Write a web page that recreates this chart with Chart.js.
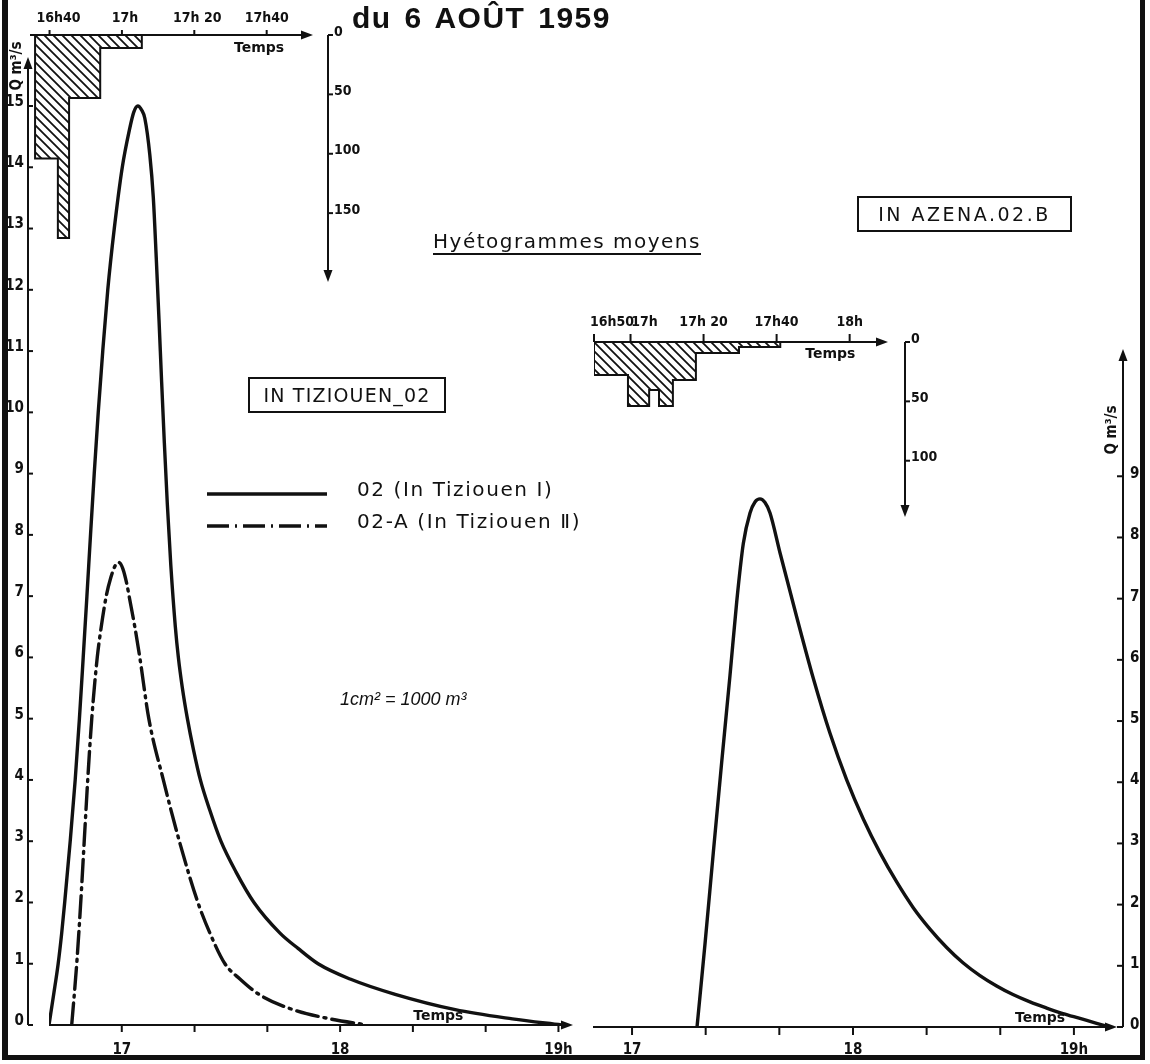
<!DOCTYPE html>
<html lang="fr">
<head>
<meta charset="utf-8">
<title>Crue du 6 août 1959</title>
<script src="https://cdn.jsdelivr.net/npm/chart.js@4.4.1/dist/chart.umd.min.js"></script>
<style>
  body { margin: 0; background: #fff; }
  #page { position: relative; width: 1150px; height: 1064px; overflow: hidden; background: #fff; color: #111; }
  .panel { position: absolute; }
  .frame { position: absolute; left: 2px; top: 0; width: 1143px; height: 1060px; box-sizing: border-box;
           border-left: 6px solid #111; border-right: 5px solid #111; border-bottom: 5px solid #111; }
  .txt { position: absolute; white-space: nowrap; }
  #title { left: 352px; top: 1px; font: bold 30px "Liberation Sans", Arial, sans-serif; letter-spacing: 1.5px; word-spacing: 3px; }
  #hyeto-title { left: 433px; top: 229px; font: 20px "DejaVu Sans", sans-serif; letter-spacing: 1.5px;
                 line-height: 24px; border-bottom: 2px solid #111; }
  .box { position: absolute; box-sizing: border-box; border: 2px solid #111; font: 19px "DejaVu Sans", sans-serif;
         display: flex; align-items: center; justify-content: center; white-space: nowrap; }
  #box1 { left: 248px; top: 377px; width: 198px; height: 36px; letter-spacing: 1.2px; }
  #box2 { left: 857px; top: 196px; width: 215px; height: 36px; letter-spacing: 2.5px; }
  #scale-note { left: 340px; top: 689px; font: italic 18px "Liberation Sans", sans-serif; }
</style>
</head>
<body>
<div id="page">
  <div class="panel" style="left:0;top:0"><canvas id="hydroLeft" width="600" height="1064"></canvas></div>
  <div class="panel" style="left:560px;top:0"><canvas id="hydroRight" width="590" height="1064"></canvas></div>
  <div class="panel" style="left:0;top:0"><canvas id="rainLeft" width="360" height="300"></canvas></div>
  <div class="panel" style="left:570px;top:300px"><canvas id="rainRight" width="370" height="240"></canvas></div>

  <div class="frame"></div>
  <div class="txt" id="title">du 6 AOÛT 1959</div>
  <div class="txt" id="hyeto-title">Hyétogrammes moyens</div>
  <div class="box" id="box1">IN TIZIOUEN_02</div>
  <div class="box" id="box2">IN AZENA.02.B</div>
  <div class="txt" id="scale-note">1cm² = 1000 m³</div>
</div>
<script>
// temps en minutes après 16h00, débits en m3/s, pluie en mm/h

// 02 (In Tiziouen I) - trait plein
const t02 = [40, 41.29, 42.52, 43.49, 44.31, 45.83, 47.20, 48.36, 49.40, 50.42, 51.41, 52.43, 53.53, 54.77,
             56.15, 57.94, 60.14, 62.06, 63.30, 64.40,
             65.50, 66.33, 67.71, 68.67, 69.49, 70.24, 70.95, 71.70, 72.52, 73.48, 74.72, 75.55, 76.65, 78.03,
             79.68, 81.60, 84.22, 87.24, 91.37, 96.33, 103.48, 108.44, 113.94, 122.75, 135.13, 151.64, 167.33, 180.81];
const q02 = [0, 0.5, 1, 1.5, 2, 3, 4, 5, 6, 7, 8, 9, 10, 11,
             12, 13, 14, 14.6, 14.9, 15,
             14.93, 14.8, 14.2, 13.5, 12.5, 11.5, 10.5, 9.5, 8.5, 7.5, 6.5, 6, 5.5, 5,
             4.5, 4, 3.5, 3, 2.5, 2, 1.5, 1.25, 1, 0.75, 0.5, 0.25, 0.1, 0];

// 02-A (In Tiziouen II) - tiret point
const t02A = [46.24, 47.62, 48.72, 49.68, 50.64, 51.75, 53.26, 54.36, 55.73, 56.97, 58.21, 59.17, 60.28, 61.38,
              62.20, 63.58, 64.95, 67.43, 71.42, 75.82, 80.92, 84.22, 88.35, 92.47, 97.70, 107.06, 117.24, 127.42];
const q02A = [0, 1, 2, 3, 4, 5, 6, 6.5, 7, 7.3, 7.5, 7.55, 7.45, 7.2,
              6.94, 6.5, 6, 5, 4, 3, 2, 1.5, 1, 0.75, 0.5, 0.25, 0.1, 0];

// In Azena 02.B
const tAzena = [77.65, 79.82, 82.07, 84.35, 86.61, 88.43, 90.22, 92.04, 93.39, 94.75, 96.11, 97.47, 100.18,
                104.72, 109.22, 113.76, 118.29, 122.8, 127.33, 131.87, 136.37, 140.91, 145.44, 149.87, 154.48,
                159.02, 163.44, 168.06, 172.59, 177.02, 181.64, 186.17, 189.8];
const qAzena = [0, 1.36, 2.85, 4.33, 5.75, 6.95, 7.9, 8.4, 8.58, 8.63, 8.57, 8.4, 7.75,
                6.70, 5.70, 4.80, 4.04, 3.40, 2.85, 2.37, 1.95, 1.60, 1.30, 1.05, 0.84,
                0.67, 0.53, 0.41, 0.31, 0.22, 0.14, 0.06, 0];

// hyétogrammes moyens : début de chaque palier, fin du dernier, intensité
const rainLeftStart = [36, 42.3, 45.4, 54];
const rainLeftEnd = 65.5;
const rainLeftMmH = [104, 171, 53, 11];
const rainRightStart = [50, 59.3, 65.1, 67.8, 71.6, 77.9, 89.7];
const rainRightEnd = 101;
const rainRightMmH = [27.8, 53.9, 40.4, 53.9, 32, 9.3, 4.2];

// graduations
const hydroTicks = [60, 80, 100, 120, 140, 160, 180];
const hydroLabels = ['17', '', '', '18', '', '', '19h'];
const qLeftTicks = [0, 1, 2, 3, 4, 5, 6, 7, 8, 9, 10, 11, 12, 13, 14, 15];
const qRightTicks = [0, 1, 2, 3, 4, 5, 6, 7, 8, 9];
const rainLeftTicks = [40, 60, 80, 100];
const rainLeftLabels = ['16h40', '17h', '17h 20', '17h40'];
const rainRightTicks = [50, 60, 80, 100, 120];
const rainRightLabels = ['16h50', '17h', '17h 20', '17h40', '18h'];
const mmLeftTicks = [0, 50, 100, 150];
const mmRightTicks = [0, 50, 100];
const legendLabels = ['02 (In Tiziouen Ⅰ)', '02-A (In Tiziouen Ⅱ)'];

const ink = '#111';
const tickFont = 'bold 15px "DejaVu Sans Condensed", "Liberation Sans Narrow", sans-serif';

const pts = (xs, ys) => xs.map((x, i) => ({ x, y: ys[i] }));

// paliers -> points pour une ligne en escalier fermée sur l'axe
function steps(starts, end, vals) {
    const p = [{ x: starts[0], y: 0 }];
    starts.forEach((s, i) => p.push({ x: s, y: vals[i] }));
    p.push({ x: end, y: 0 });
    return p;
}

function hatch() {
    const s = 9;
    const c = document.createElement('canvas');
    c.width = c.height = s;
    const g = c.getContext('2d');
    g.strokeStyle = ink;
    g.lineWidth = 1.8;
    g.beginPath();
    g.moveTo(0, 0); g.lineTo(s, s);
    g.moveTo(-1, s - 1); g.lineTo(1, s + 1);
    g.moveTo(s - 1, -1); g.lineTo(s + 1, 1);
    g.stroke();
    return g.createPattern(c, 'repeat');
}

function seg(ctx, x1, y1, x2, y2) {
    ctx.beginPath();
    ctx.moveTo(x1, y1);
    ctx.lineTo(x2, y2);
    ctx.stroke();
}

function head(ctx, x, y, ang) {
    ctx.save();
    ctx.translate(x, y);
    ctx.rotate(ang);
    ctx.beginPath();
    ctx.moveTo(0, 0);
    ctx.lineTo(-12, -4.5);
    ctx.lineTo(-12, 4.5);
    ctx.closePath();
    ctx.fill();
    ctx.restore();
}

// axes dessinés à la main façon planche technique
const axisArt = {
    id: 'axisArt',
    afterDraw(chart, args, o) {
        const { ctx, chartArea: area } = chart;
        const xs = chart.scales.x, ys = chart.scales.y;
        const y0 = ys.getPixelForValue(0);
        const yEnd = ys.getPixelForValue(ys.max);
        const ax = (o.ySide === 'right' ? area.right : area.left) + o.yAxisGap;
        ctx.save();
        ctx.strokeStyle = ink;
        ctx.fillStyle = ink;
        ctx.lineWidth = 2;

        // axe du temps
        seg(ctx, xs.getPixelForValue(o.xFrom), y0, area.right - 6, y0);
        head(ctx, area.right, y0, 0);
        ctx.font = o.xFont || tickFont;
        ctx.textAlign = 'center';
        ctx.textBaseline = 'middle';
        o.xTicks.forEach((v, i) => {
            const px = xs.getPixelForValue(v);
            seg(ctx, px, y0, px, y0 + o.xTickLen);
            const lab = o.xLabels[i];
            if (lab) ctx.fillText(lab, px + ((o.xLabelDx || [])[i] || 0), y0 + o.xLabelDy);
        });
        ctx.font = '600 14px "DejaVu Sans", sans-serif';
        ctx.fillText('Temps', xs.getPixelForValue(o.tempsAt), y0 + o.tempsDy);

        // axe vertical
        seg(ctx, ax, y0, ax, yEnd + (yEnd < y0 ? 6 : -6));
        head(ctx, ax, yEnd, yEnd < y0 ? -Math.PI / 2 : Math.PI / 2);
        ctx.font = o.yFont || tickFont;
        ctx.textAlign = o.yLabelAlign;
        o.yTicks.forEach(v => {
            const py = ys.getPixelForValue(v);
            seg(ctx, ax, py, ax + o.yTickLen, py);
            ctx.fillText(String(v), ax + o.yLabelDx, py + o.yLabelDy);
        });
        if (o.qAt) {
            ctx.save();
            ctx.translate(ax + o.qAt[0], yEnd + o.qAt[1]);
            ctx.rotate(-Math.PI / 2);
            ctx.textAlign = 'center';
            ctx.font = 'bold 15px "DejaVu Sans Condensed", sans-serif';
            ctx.fillText('Q m³/s', 0, 0);
            ctx.restore();
        }

        // légende des deux courbes
        if (o.legend) {
            const L = o.legend;
            chart.data.datasets.forEach((ds, i) => {
                const y = L.y + i * L.gap;
                ctx.lineWidth = ds.borderWidth;
                ctx.setLineDash(ds.borderDash || []);
                seg(ctx, L.x, y, L.x + L.len, y);
                ctx.setLineDash([]);
                ctx.font = '20px "DejaVu Sans", sans-serif';
                ctx.letterSpacing = '1.6px';
                ctx.textAlign = 'left';
                ctx.fillText(ds.label, L.x + L.textGap, y - 3);
                ctx.letterSpacing = '0px';
            });
        }
        ctx.restore();
    }
};

function makeChart(id, datasets, xRange, yRange, pad, art) {
    return new Chart(document.getElementById(id), {
        type: 'line',
        data: { datasets },
        options: {
            responsive: false,
            animation: false,
            events: [],
            layout: { padding: pad, autoPadding: false },
            plugins: { legend: { display: false }, tooltip: { enabled: false }, axisArt: art },
            scales: {
                x: { type: 'linear', display: false, min: xRange[0], max: xRange[1] },
                y: { type: 'linear', display: false, min: yRange[0], max: yRange[1], reverse: !!yRange[2] }
            },
            elements: { point: { radius: 0 } }
        },
        plugins: [axisArt]
    });
}

const curve = (label, xs, ys, dash) => ({
    label,
    data: pts(xs, ys),
    borderColor: ink,
    borderWidth: 3.4,
    borderDash: dash,
    borderCapStyle: 'round',
    fill: false,
    cubicInterpolationMode: 'monotone'
});

const rain = (starts, end, vals) => ({
    data: steps(starts, end, vals),
    stepped: 'before',
    borderColor: ink,
    borderWidth: 2,
    backgroundColor: hatch(),
    fill: 'origin'
});

makeChart('hydroLeft',
    [curve(legendLabels[0], t02, q02, []), curve(legendLabels[1], t02A, q02A, [22, 6, 2, 6])],
    [40, 184], [0, 15.8],
    { left: 49, right: 27, top: 57, bottom: 39 },
    {
        xFrom: 40, xTicks: hydroTicks, xLabels: hydroLabels, xTickLen: 7, xLabelDy: 25,
        tempsAt: 147, tempsDy: -9,
        ySide: 'left', yAxisGap: -21, yTicks: qLeftTicks, yTickLen: 5,
        yLabelAlign: 'right', yLabelDx: -4, yLabelDy: -4, qAt: [-11, 9],
        legend: { x: 207, y: 494, gap: 32, len: 120, textGap: 150 }
    });

makeChart('hydroRight',
    [curve('02.B (In Azena)', tAzena, qAzena, [])],
    [49.4, 191.7], [0, 11.08],
    { left: 33, right: 33, top: 349, bottom: 37 },
    {
        xFrom: 49.4, xTicks: hydroTicks, xLabels: hydroLabels, xTickLen: 8, xLabelDy: 23,
        tempsAt: 170.8, tempsDy: -9,
        ySide: 'right', yAxisGap: 6, yTicks: qRightTicks, yTickLen: -6,
        yLabelAlign: 'left', yLabelDx: 7, yLabelDy: -2, qAt: [-11, 81]
    });

makeChart('rainLeft',
    [rain(rainLeftStart, rainLeftEnd, rainLeftMmH)],
    [34.6, 112.8], [0, 208, true],
    { left: 30, right: 47, top: 35, bottom: 18 },
    {
        xFrom: 34.6, xTicks: rainLeftTicks, xLabels: rainLeftLabels, xTickLen: -5, xLabelDy: -17,
        xLabelDx: [9, 3, 3, 0], xFont: 'bold 14px "DejaVu Sans Condensed", sans-serif',
        tempsAt: 97.9, tempsDy: 13,
        ySide: 'right', yAxisGap: 15, yTicks: mmLeftTicks, yTickLen: 5,
        yLabelAlign: 'left', yLabelDx: 6, yLabelDy: -3, yFont: 'bold 14px "DejaVu Sans Condensed", sans-serif'
    });

makeChart('rainRight',
    [rain(rainRightStart, rainRightEnd, rainRightMmH)],
    [50, 130.5], [0, 147.4, true],
    { left: 24, right: 52, top: 42, bottom: 23 },
    {
        xFrom: 50, xTicks: rainRightTicks, xLabels: rainRightLabels, xTickLen: -8, xLabelDy: -20,
        xLabelDx: [18, 14, 0, 0, 0], xFont: 'bold 14px "DejaVu Sans Condensed", sans-serif',
        tempsAt: 114.7, tempsDy: 12,
        ySide: 'right', yAxisGap: 17, yTicks: mmRightTicks, yTickLen: 5,
        yLabelAlign: 'left', yLabelDx: 6, yLabelDy: -3, yFont: 'bold 14px "DejaVu Sans Condensed", sans-serif'
    });
</script>
</body>
</html>
